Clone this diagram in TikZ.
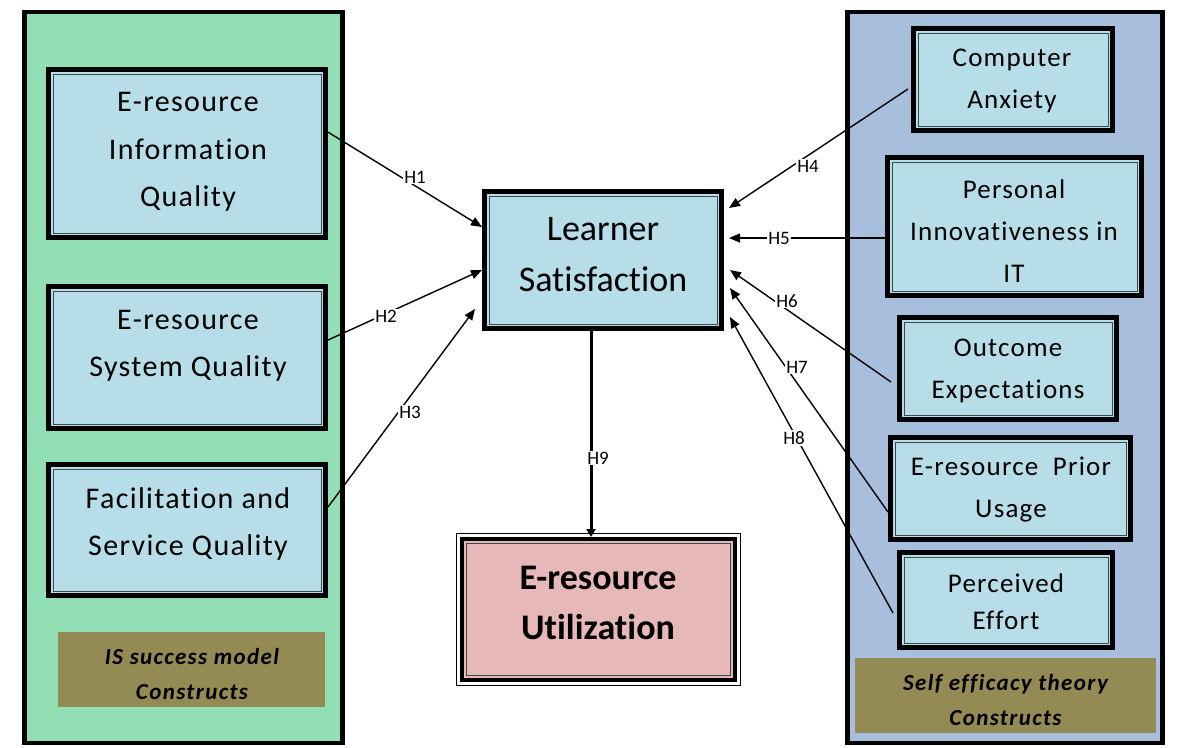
\documentclass[tikz,border=0pt]{standalone}
\usepackage{fontspec}
\setmainfont{Carlito}[Ligatures=NoCommon]
\newfontfamily\trackfont{Carlito}[LetterSpace=4.5,Ligatures=NoCommon]
\newfontfamily\tagfont{Carlito}[LetterSpace=6,Ligatures=NoCommon]
\usetikzlibrary{arrows.meta,calc}

\definecolor{panelgreen}{HTML}{93DFB5}
\definecolor{panelblue}{HTML}{A7BFDD}
\definecolor{boxblue}{HTML}{B7DEE8}
\definecolor{boxpink}{HTML}{E6B8B7}
\definecolor{tagolive}{HTML}{948A54}
\definecolor{frameline}{HTML}{3A4A50}

\begin{document}
\begin{tikzpicture}[x=1pt,y=-1pt,
  panel/.style={draw=black,line width=4.5pt},
  tagbox/.style={fill=tagolive,draw=none},
  cbox/.style={draw=black,line width=5pt,fill=boxblue,inner sep=0pt},
  innerline/.style={draw=frameline,line width=1pt},
  bigtext/.style={align=center,text=black,font=\trackfont\fontsize{30}{47.5}\selectfont},
  smalltext/.style={align=center,text=black,font=\trackfont\fontsize{27}{42}\selectfont},
  tagtext/.style={align=center,text=black,font=\tagfont\bfseries\itshape\fontsize{23}{35}\selectfont},
  arr/.style={line width=1.4pt,-{Triangle[length=11pt,width=9pt]}},
  hlbl/.style={fill=white,inner sep=1pt,text=black,font=\fontsize{19}{21}\selectfont}
]
\useasboundingbox (0,0) rectangle (1180,747);

% construct panels
\draw[panel,fill=panelgreen] (24.5,12) rectangle (342.5,743);
\draw[panel,fill=panelblue] (847.5,12) rectangle (1162.5,743);
\node[tagbox,minimum width=267pt,minimum height=75pt] (tagl) at (191.5,669.5) {};
\node[tagtext] (tagltext) at (192,674) {IS success model\\Constructs};
\node[tagbox,minimum width=301pt,minimum height=75pt] (tagr) at (1005.5,695.5) {};
\node[tagtext] (tagrtext) at (1005.5,700) {Self efficacy theory\\Constructs};

% IS success constructs
\node[cbox,minimum width=277pt,minimum height=168pt] (b1) at (187,153.5) {};
\node[bigtext] (b1t) at (188,152) {E-resource\\Information\\Quality};
\node[cbox,minimum width=277pt,minimum height=142pt] (b2) at (187,357.5) {};
\node[bigtext] (b2t) at (188,346) {E-resource\\System Quality};
\node[cbox,minimum width=277pt,minimum height=131pt] (b3) at (187,530) {};
\node[bigtext] (b3t) at (188,524) {Facilitation and\\Service Quality};

% self efficacy constructs
\node[cbox,minimum width=199pt,minimum height=102pt] (ca) at (1013,79.5) {};
\node[smalltext] (cat) at (1012,81) {Computer\\Anxiety};
\node[cbox,minimum width=254pt,minimum height=138pt] (pi) at (1014.5,226.5) {};
\node[smalltext] (pit) at (1014,231) {Personal\\Innovativeness in\\IT};
\node[cbox,minimum width=217pt,minimum height=102pt] (oe) at (1008,368.5) {};
\node[smalltext] (oet) at (1008,371) {Outcome\\Expectations};
\node[cbox,minimum width=240pt,minimum height=102pt] (pu) at (1010.5,488.5) {};
\node[smalltext] (put) at (1011,490) {E-resource\ \ Prior\\Usage};
\node[cbox,minimum width=213pt,minimum height=95pt] (pe) at (1006,600) {};
\node[smalltext,font=\trackfont\fontsize{27}{37}\selectfont] (pet) at (1006,602) {Perceived\\Effort};

% central constructs
\node[cbox,minimum width=237pt,minimum height=137pt] (ls) at (603,260) {};
\node[align=center,text=black,font=\fontsize{36}{51}\selectfont] (lst) at (603,255) {Learner\\Satisfaction};
\node[draw=black,line width=4pt,fill=boxpink,inner sep=0pt,minimum width=273pt,minimum height=141pt] (ut) at (598.5,609.5) {};
\node[align=center,text=black,font=\bfseries\fontsize{36}{50}\selectfont] (utt) at (598,603) {E-resource\\Utilization};

% inner rules of the framed boxes
\foreach \n in {b1,b2,b3,ca,pi,oe,pu,pe,ls}
  \draw[innerline] ([shift={(7,7)}]\n.north west) rectangle ([shift={(-7,-7)}]\n.south east);
\draw[draw=black,line width=1pt] ([shift={(-3.5,-3.5)}]ut.north west) rectangle ([shift={(3.5,3.5)}]ut.south east);
\draw[innerline] ([shift={(6.5,6.5)}]ut.north west) rectangle ([shift={(-6.5,-6.5)}]ut.south east);

% hypotheses
\draw[arr] ($(b1.east)+(-1,-22)$) -- ($(ls.west)+(0,-33)$);
\draw[arr] ($(b2.east)+(0,-17.5)$) -- ($(ls.west)+(0,10)$);
\draw[arr] ($(b3.east)+(0,-23)$) -- ($(ls.south west)+(-7,-22)$);
\draw[arr] ($(ca.west)+(-3,9.5)$) -- ($(ls.east)+(5,-52)$);
\draw[arr] ($(pi.west)+(0,11.5)$) -- ($(ls.east)+(5,-22)$);
\draw[arr] ($(oe.west)+(-6,13.5)$) -- ($(ls.east)+(6,10)$);
\draw[arr] ($(pu.west)+(0,23.5)$) -- ($(ls.east)+(6,28)$);
\draw[arr] ($(pe.west)+(-4,13)$) -- ($(ls.east)+(6,57)$);
\draw[line width=3pt,-{Triangle[length=8pt,width=9pt]}] ($(ls.south)+(-12,0)$) -- ($(ut.north)+(-7.5,0)$);

\node[hlbl] (h1) at (415,177) {H1};
\node[hlbl] (h2) at (386,316) {H2};
\node[hlbl] (h3) at (410,412) {H3};
\node[hlbl] (h4) at (808,166) {H4};
\node[hlbl] (h5) at (779,238) {H5};
\node[hlbl] (h6) at (787,301) {H6};
\node[hlbl] (h7) at (797,367) {H7};
\node[hlbl] (h8) at (794,438) {H8};
\node[hlbl] (h9) at (598,458) {H9};
\end{tikzpicture}
\end{document}
